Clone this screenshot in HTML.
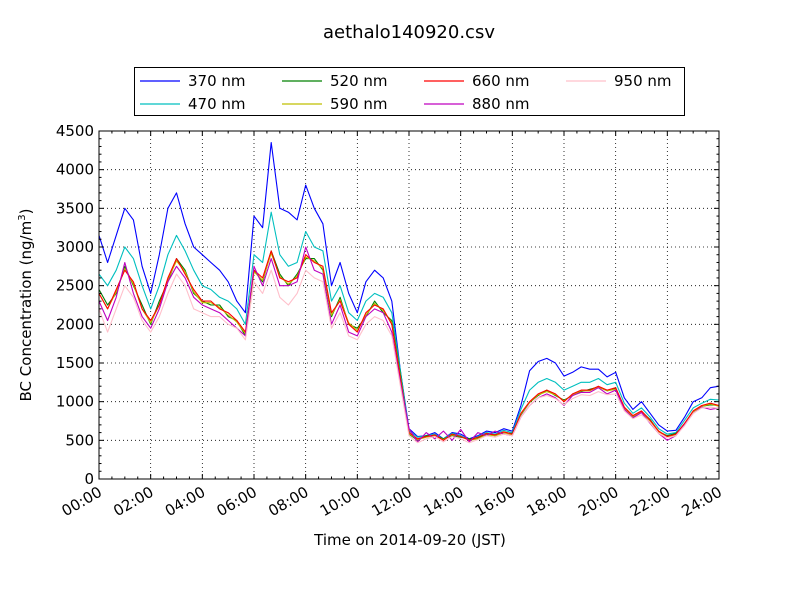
<!DOCTYPE html>
<html><head><meta charset="utf-8"><style>
body{margin:0;background:#fff;}
svg{display:block;font-family:"DejaVu Sans","Liberation Sans",sans-serif;}
</style></head><body>
<svg id="chart" width="800" height="600" viewBox="0 0 800 600" xmlns="http://www.w3.org/2000/svg">
<rect width="800" height="600" fill="#fff"/>
<text x="409" y="38" font-size="18" text-anchor="middle">aethalo140920.csv</text>
<g id="grid"></g>
<g id="series"></g>
<g id="axes"></g>
<text x="410" y="545" font-size="15" text-anchor="middle">Time on 2014-09-20 (JST)</text>
<text transform="translate(31,305) rotate(-90)" font-size="15" text-anchor="middle">BC Concentration (ng/m<tspan dy="-6" font-size="10">3</tspan><tspan dy="6">)</tspan></text>
<g id="legend"></g>
</svg>
<script>
const hours = Array.from({length:73},(_,i)=>i/3);
const yTicks = [0,500,1000,1500,2000,2500,3000,3500,4000,4500];
const xTickLabels = ["00:00","02:00","04:00","06:00","08:00","10:00","12:00","14:00","16:00","18:00","20:00","22:00","24:00"];
const s370 = [3150,2800,3150,3500,3350,2750,2400,2900,3500,3700,3300,3000,2900,2800,2700,2550,2300,2150,3400,3250,4350,3500,3450,3350,3800,3500,3300,2500,2800,2400,2150,2550,2700,2600,2300,1400,650,550,560,600,520,600,580,520,560,620,600,650,620,950,1400,1520,1560,1500,1330,1380,1450,1420,1420,1320,1380,1050,900,1000,850,700,620,630,800,1000,1050,1180,1200];
const s470 = [2650,2500,2700,3000,2850,2500,2200,2500,2900,3150,2950,2700,2500,2450,2350,2300,2200,2000,2900,2800,3450,2900,2750,2800,3200,3000,2950,2300,2500,2150,2050,2300,2400,2350,2150,1400,620,540,560,580,520,590,560,510,550,600,580,630,600,900,1150,1250,1300,1250,1150,1200,1250,1250,1300,1220,1250,980,850,920,800,650,580,600,760,920,980,1030,1020];
const s520 = [2450,2250,2400,2750,2500,2250,2000,2300,2550,2850,2700,2400,2300,2250,2250,2100,2050,1850,2700,2550,2950,2650,2500,2650,2850,2850,2700,2100,2350,2000,1950,2100,2300,2150,2050,1350,580,500,560,560,520,560,540,520,530,580,560,600,590,830,990,1080,1150,1080,1020,1080,1130,1160,1190,1140,1170,920,800,870,770,610,560,590,700,870,940,960,950];
const s590 = [2400,2200,2420,2720,2520,2200,2020,2250,2580,2820,2680,2420,2280,2280,2220,2120,2030,1880,2680,2570,2920,2620,2520,2620,2870,2820,2720,2120,2320,2020,1920,2120,2270,2180,2020,1320,590,510,540,560,510,570,550,500,520,570,560,600,570,840,990,1090,1130,1090,1010,1090,1140,1140,1190,1140,1160,910,810,870,750,610,550,570,710,870,940,970,940];
const s660 = [2400,2200,2450,2700,2550,2200,2050,2250,2600,2850,2650,2450,2300,2300,2200,2150,2050,1900,2700,2600,2950,2600,2550,2600,2900,2800,2750,2150,2300,2000,1900,2150,2250,2200,2000,1300,600,520,550,570,500,580,550,500,540,590,570,610,580,850,1000,1100,1150,1100,1000,1100,1150,1150,1200,1150,1180,930,820,880,760,620,550,580,720,880,950,980,950];
const s880 = [2300,2050,2350,2800,2400,2100,1950,2200,2550,2750,2600,2350,2250,2200,2150,2050,1950,1850,2750,2500,2850,2500,2500,2550,3000,2700,2650,2000,2250,1900,1850,2100,2200,2150,1900,1250,650,480,600,520,620,500,640,480,600,560,620,580,560,800,950,1050,1100,1050,950,1080,1120,1120,1180,1100,1150,900,790,860,720,590,500,560,700,850,930,900,920];
const s950 = [2200,1900,2200,2500,2350,2050,1900,2100,2400,2650,2500,2200,2150,2100,2100,2000,1950,1800,2550,2400,2700,2350,2250,2400,2700,2600,2550,1950,2150,1850,1800,2000,2100,2050,1850,1200,560,470,520,550,480,550,520,470,510,560,540,580,560,800,950,1050,1080,1040,960,1040,1090,1080,1130,1090,1100,880,780,830,730,590,530,560,690,850,920,930,910];
const seriesNames = ["370 nm","470 nm","520 nm","590 nm","660 nm","880 nm","950 nm"];
const seriesColors = ["#0000ff","#00bfbf","#008000","#bfbf00","#ff0000","#bf00bf","#ffc0cb"];
const seriesData = [s370,s470,s520,s590,s660,s880,s950];

const L=99,R=719,T=131,B=479;
const xs = h => L + (h/24)*(R-L);
const ys = v => B - (v/4500)*(B-T);
const NS="http://www.w3.org/2000/svg";
function mk(tag,attrs,parent){const e=document.createElementNS(NS,tag);for(const k in attrs)e.setAttribute(k,attrs[k]);parent.appendChild(e);return e;}
const grid=document.getElementById('grid'),axes=document.getElementById('axes'),ser=document.getElementById('series'),leg=document.getElementById('legend');

// grid
for(let i=1;i<xTickLabels.length-1;i++){const x=xs(i*2);const g=mk('line',{x1:x,x2:x,y1:T,y2:B,stroke:'#000','stroke-width':0.8,'stroke-dasharray':'1,3'},grid);

}
yTicks.slice(1,-1).forEach(v=>{const y=ys(v);const g=mk('line',{x1:L,x2:R,y1:y,y2:y,stroke:'#000','stroke-width':0.8,'stroke-dasharray':'1,3'},grid);

});

// series
seriesData.forEach((d,si)=>{
  const pts=d.map((v,i)=>xs(hours[i]).toFixed(1)+','+ys(v).toFixed(1)).join(' ');
  const p=mk('polyline',{points:pts,fill:'none',stroke:seriesColors[si],'stroke-width':1.1,'stroke-linejoin':'round'},ser);
  
  
});

// axes frame
const fr=mk('rect',{x:L,y:T,width:R-L,height:B-T,fill:'none',stroke:'#000','stroke-width':1},axes);


// y ticks
yTicks.forEach(v=>{const y=ys(v);
  mk('line',{x1:L,x2:L+5,y1:y,y2:y,stroke:'#000'},axes);mk('line',{x1:R,x2:R-5,y1:y,y2:y,stroke:'#000'},axes);
  const t=mk('text',{x:L-5,y:y+5,'font-size':15,'text-anchor':'end'},axes);t.textContent=v;
  
  });
for(let v=100;v<4500;v+=100){if(v%500===0)continue;const y=ys(v);
  mk('line',{x1:L,x2:L+2.5,y1:y,y2:y,stroke:'#000'},axes);mk('line',{x1:R,x2:R-2.5,y1:y,y2:y,stroke:'#000'},axes);}
// x ticks
xTickLabels.forEach((lab,i)=>{const x=xs(i*2);
  mk('line',{x1:x,x2:x,y1:B,y2:B-5,stroke:'#000'},axes);mk('line',{x1:x,x2:x,y1:T,y2:T+5,stroke:'#000'},axes);
  const t=mk('text',{'font-size':15,'text-anchor':'end',transform:`translate(${x+4},${B+16}) rotate(-30)`},axes);t.textContent=lab;
  
  });
for(let h=0.5;h<24;h+=0.5){if(Math.abs(h%2)<1e-6)continue;const x=xs(h);
  mk('line',{x1:x,x2:x,y1:B,y2:B-2.5,stroke:'#000'},axes);mk('line',{x1:x,x2:x,y1:T,y2:T+2.5,stroke:'#000'},axes);}

// legend
const lb=mk('rect',{x:134.5,y:67.5,width:550,height:48,fill:'#fff',stroke:'#000'},leg);


const colX=[140,282,424,566];
seriesNames.forEach((n,i)=>{const c=Math.floor(i/2),r=i%2;const x=colX[c],y=81+r*23;
  const g=mk('g',{},leg);
  
  
  mk('line',{x1:x,x2:x+40,y1:y,y2:y,stroke:seriesColors[i],'stroke-width':1.2},g);
  const t=mk('text',{x:x+48,y:y+5,'font-size':15},g);t.textContent=n;});
</script>
</body></html>
